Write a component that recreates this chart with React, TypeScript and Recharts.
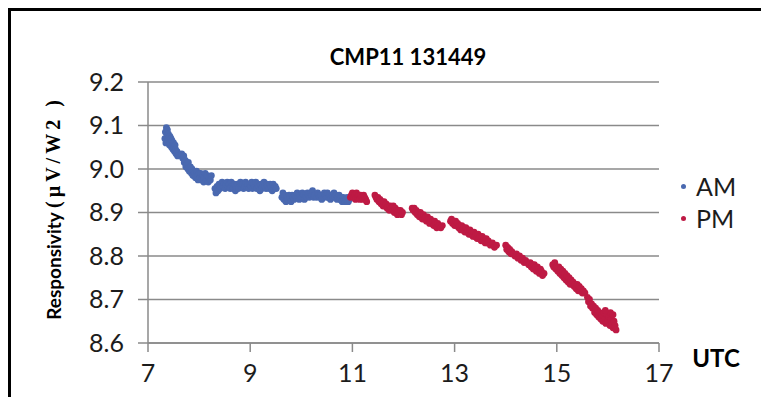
import React from 'react';
import { ScatterChart, Scatter, XAxis, YAxis, CartesianGrid } from 'recharts';

const TITLE = 'CMP11 131449';
const X_LABEL = 'UTC';
const Y_LABEL_MAIN = 'Responsivity ';
const Y_LABEL_UNIT = '(µV/W2 )';
const X_TICKS = [7, 9, 11, 13, 15, 17];
const Y_TICKS = [8.6, 8.7, 8.8, 8.9, 9.0, 9.1, 9.2];
const SERIES_NAMES = ['AM', 'PM'];

const amPoints: [number, number][] = [
  [7.33, 9.07], [7.34, 9.085], [7.35, 9.06], [7.36, 9.095], [7.37, 9.075], [7.38, 9.09], [7.39, 9.065],
  [7.40, 9.08], [7.41, 9.07], [7.42, 9.055], [7.43, 9.075], [7.44, 9.06], [7.45, 9.07], [7.46, 9.05],
  [7.47, 9.065], [7.48, 9.055], [7.49, 9.045], [7.50, 9.06], [7.51, 9.05], [7.52, 9.04], [7.53, 9.055],
  [7.54, 9.045], [7.55, 9.035], [7.57, 9.04], [7.58, 9.03],
  [7.66, 9.035], [7.68, 9.025], [7.70, 9.03], [7.71, 9.015], [7.73, 9.02], [7.74, 9.005], [7.76, 9.01],
  [7.78, 9.0], [7.79, 9.015], [7.81, 8.995], [7.83, 9.005], [7.85, 8.99], [7.86, 9.0], [7.88, 8.985],
  [7.90, 8.995], [7.92, 8.99], [7.93, 8.98], [7.95, 8.995], [7.97, 8.985], [7.98, 8.975], [8.00, 8.99],
  [8.02, 8.98], [8.03, 8.99], [8.05, 8.975], [8.07, 8.985], [8.09, 8.97], [8.10, 8.98], [8.12, 8.99],
  [8.14, 8.975], [8.16, 8.985], [8.18, 8.97], [8.20, 8.98], [8.22, 8.975], [8.24, 8.985],
  [8.31, 8.955], [8.33, 8.945], [8.35, 8.96], [8.37, 8.95], [8.39, 8.965], [8.41, 8.955], [8.43, 8.96],
  [8.45, 8.97], [8.47, 8.96], [8.49, 8.965], [8.51, 8.955], [8.53, 8.965], [8.55, 8.97], [8.57, 8.96],
  [8.59, 8.965], [8.61, 8.955], [8.63, 8.97], [8.65, 8.96], [8.67, 8.955], [8.69, 8.965], [8.71, 8.95],
  [8.73, 8.96], [8.75, 8.965], [8.77, 8.955], [8.79, 8.965], [8.81, 8.97], [8.83, 8.96], [8.85, 8.965],
  [8.87, 8.955], [8.89, 8.96], [8.91, 8.97], [8.93, 8.96], [8.95, 8.965], [8.97, 8.955], [8.99, 8.965],
  [9.01, 8.96], [9.03, 8.97], [9.05, 8.955], [9.07, 8.965], [9.09, 8.96], [9.11, 8.97], [9.13, 8.955],
  [9.15, 8.965], [9.17, 8.96], [9.19, 8.95], [9.21, 8.965], [9.23, 8.955], [9.25, 8.96], [9.27, 8.97],
  [9.29, 8.96], [9.31, 8.955], [9.33, 8.965], [9.35, 8.96], [9.37, 8.955], [9.39, 8.965], [9.41, 8.96],
  [9.43, 8.95], [9.45, 8.965], [9.47, 8.955], [9.49, 8.96], [9.51, 8.955],
  [9.62, 8.935], [9.64, 8.945], [9.66, 8.93], [9.68, 8.94], [9.70, 8.925], [9.72, 8.935], [9.74, 8.93],
  [9.76, 8.94], [9.78, 8.935], [9.80, 8.925], [9.82, 8.94], [9.84, 8.935], [9.86, 8.93], [9.88, 8.94],
  [9.90, 8.935], [9.92, 8.945], [9.94, 8.935], [9.96, 8.93], [9.98, 8.94], [10.00, 8.935], [10.02, 8.945],
  [10.04, 8.94], [10.06, 8.93], [10.08, 8.94], [10.10, 8.935], [10.12, 8.945], [10.14, 8.94], [10.16, 8.935],
  [10.18, 8.945], [10.20, 8.94], [10.22, 8.95], [10.24, 8.935], [10.26, 8.94], [10.30, 8.935], [10.32, 8.945],
  [10.34, 8.94], [10.36, 8.935], [10.38, 8.94], [10.40, 8.93], [10.45, 8.945], [10.47, 8.94], [10.49, 8.935],
  [10.51, 8.945], [10.53, 8.935], [10.55, 8.94], [10.57, 8.93], [10.60, 8.94], [10.62, 8.935], [10.64, 8.945],
  [10.66, 8.935], [10.68, 8.94], [10.70, 8.93], [10.72, 8.935], [10.74, 8.94], [10.76, 8.93], [10.78, 8.935],
  [10.80, 8.925], [10.82, 8.935], [10.84, 8.93], [10.86, 8.925], [10.88, 8.93], [10.90, 8.935], [10.92, 8.925],
  [10.94, 8.93],
];

const pmPoints: [number, number][] = [
  [10.96, 8.935], [10.98, 8.94], [11.00, 8.945], [11.02, 8.935], [11.04, 8.94], [11.06, 8.93], [11.08, 8.945],
  [11.10, 8.935], [11.12, 8.94], [11.14, 8.93], [11.16, 8.94], [11.18, 8.935], [11.20, 8.93], [11.22, 8.94],
  [11.24, 8.935], [11.26, 8.93], [11.28, 8.925],
  [11.44, 8.94], [11.46, 8.935], [11.48, 8.93], [11.50, 8.935], [11.52, 8.925], [11.54, 8.93], [11.56, 8.92],
  [11.58, 8.925], [11.60, 8.915], [11.62, 8.925], [11.64, 8.915], [11.66, 8.92], [11.68, 8.91], [11.70, 8.915],
  [11.72, 8.905], [11.74, 8.915], [11.76, 8.91], [11.78, 8.905], [11.80, 8.915], [11.82, 8.9], [11.84, 8.91],
  [11.86, 8.905], [11.88, 8.895], [11.90, 8.905], [11.92, 8.9], [11.94, 8.905], [11.96, 8.895], [11.98, 8.9],
  [12.17, 8.91], [12.19, 8.905], [12.21, 8.91], [12.23, 8.9], [12.25, 8.905], [12.27, 8.895], [12.29, 8.9],
  [12.31, 8.89], [12.33, 8.9], [12.35, 8.895], [12.37, 8.885], [12.39, 8.895], [12.41, 8.885], [12.43, 8.89],
  [12.45, 8.88], [12.47, 8.89], [12.49, 8.885], [12.51, 8.875], [12.53, 8.885], [12.55, 8.875], [12.57, 8.88],
  [12.59, 8.87], [12.61, 8.88], [12.63, 8.875], [12.65, 8.865], [12.67, 8.875], [12.70, 8.87], [12.73, 8.865],
  [12.76, 8.87],
  [12.92, 8.88], [12.94, 8.885], [12.96, 8.875], [12.98, 8.88], [13.00, 8.87], [13.02, 8.88], [13.04, 8.87],
  [13.06, 8.875], [13.08, 8.865], [13.10, 8.87], [13.12, 8.86], [13.14, 8.87], [13.16, 8.86], [13.18, 8.865],
  [13.20, 8.855], [13.22, 8.865], [13.24, 8.855], [13.26, 8.86], [13.28, 8.85], [13.30, 8.86], [13.32, 8.85],
  [13.34, 8.855], [13.36, 8.845], [13.38, 8.855], [13.40, 8.845], [13.42, 8.85], [13.44, 8.84], [13.46, 8.85],
  [13.48, 8.84], [13.50, 8.845], [13.52, 8.835], [13.54, 8.845], [13.56, 8.835], [13.58, 8.84], [13.60, 8.83],
  [13.62, 8.84], [13.64, 8.83], [13.66, 8.835], [13.70, 8.825], [13.74, 8.83], [13.78, 8.82], [13.82, 8.825],
  [14.00, 8.825], [14.02, 8.815], [14.04, 8.82], [14.06, 8.81], [14.08, 8.815], [14.10, 8.805], [14.12, 8.81],
  [14.15, 8.805], [14.18, 8.8], [14.21, 8.805], [14.24, 8.795], [14.27, 8.8], [14.30, 8.79], [14.33, 8.795],
  [14.36, 8.785], [14.39, 8.79], [14.42, 8.785], [14.45, 8.78], [14.48, 8.785], [14.50, 8.775], [14.52, 8.78],
  [14.54, 8.77], [14.56, 8.78], [14.58, 8.775], [14.60, 8.765], [14.62, 8.775], [14.64, 8.77], [14.66, 8.76],
  [14.68, 8.77], [14.70, 8.765], [14.72, 8.755], [14.75, 8.76],
  [14.92, 8.78], [14.94, 8.775], [14.96, 8.785], [14.98, 8.77], [15.00, 8.775], [15.02, 8.765], [15.04, 8.775],
  [15.06, 8.76], [15.08, 8.77], [15.10, 8.755], [15.12, 8.765], [15.14, 8.75], [15.16, 8.76], [15.18, 8.745],
  [15.20, 8.755], [15.22, 8.74], [15.24, 8.75], [15.26, 8.735], [15.28, 8.745], [15.30, 8.735], [15.32, 8.74],
  [15.34, 8.73], [15.36, 8.735], [15.38, 8.725], [15.40, 8.735], [15.42, 8.72], [15.44, 8.73], [15.46, 8.72],
  [15.48, 8.725], [15.50, 8.715], [15.52, 8.72], [15.55, 8.715],
  [15.60, 8.705], [15.62, 8.695], [15.64, 8.70], [15.66, 8.685], [15.68, 8.69], [15.70, 8.68], [15.72, 8.685],
  [15.74, 8.67], [15.76, 8.68], [15.78, 8.665], [15.80, 8.675], [15.82, 8.66], [15.84, 8.67], [15.86, 8.655],
  [15.88, 8.665], [15.90, 8.65], [15.92, 8.67], [15.94, 8.655], [15.96, 8.645], [15.98, 8.665], [16.00, 8.65],
  [16.02, 8.66], [16.04, 8.64], [16.06, 8.655], [16.08, 8.645], [16.10, 8.635], [16.12, 8.65], [16.14, 8.64],
  [16.16, 8.63], [16.05, 8.67], [15.95, 8.675], [16.10, 8.665],
];

const AM_COLOR = '#4A69B0';
const PM_COLOR = '#BE1A44';
const GRID = '#8a8a8a';
const TEXT = '#1c1c1c';

const amData = amPoints.map(([t, r]) => ({ t, r }));
const pmData = pmPoints.map(([t, r]) => ({ t, r }));

const dot = (color: string) => (props: any) => (
  <circle cx={props.cx} cy={props.cy} r={3.4} fill={color} />
);

export default function App() {
  const tickStyle = { fontFamily: 'Lato', fontSize: 25, fill: TEXT };
  return (
    <div style={{ position: 'absolute', left: 0, top: 0, width: 761, height: 397, background: '#fff', overflow: 'hidden' }}>
      <div
        style={{
          position: 'absolute',
          left: 8,
          top: 8,
          width: 800,
          height: 450,
          borderTop: '3px solid #000',
          borderLeft: '3px solid #000',
        }}
      />
      <div style={{ position: 'absolute', left: 0, top: 0 }}>
        <ScatterChart width={761} height={397} margin={{ top: 82, right: 102, bottom: 24, left: 88 }}>
          <CartesianGrid horizontal vertical={false} stroke={GRID} strokeWidth={1.5} />
          <XAxis
            type="number"
            dataKey="t"
            domain={[7, 17]}
            ticks={X_TICKS}
            height={30}
            tickSize={9}
            tickMargin={12}
            tick={tickStyle}
            axisLine={{ stroke: GRID, strokeWidth: 1.5 }}
            tickLine={{ stroke: GRID, strokeWidth: 1.5 }}
            allowDataOverflow
          />
          <YAxis
            type="number"
            dataKey="r"
            domain={[8.6, 9.2]}
            ticks={Y_TICKS}
            width={60}
            tickSize={10}
            tickMargin={14}
            tick={tickStyle}
            tickFormatter={(v: number) => v.toFixed(1)}
            axisLine={{ stroke: GRID, strokeWidth: 1.5 }}
            tickLine={{ stroke: GRID, strokeWidth: 1.5 }}
            allowDataOverflow
          />
          <Scatter name="AM" data={amData} fill={AM_COLOR} shape={dot(AM_COLOR)} isAnimationActive={false} />
          <Scatter name="PM" data={pmData} fill={PM_COLOR} shape={dot(PM_COLOR)} isAnimationActive={false} />
        </ScatterChart>
      </div>
      <div
        style={{
          position: 'absolute',
          left: 681,
          top: 170,
          fontFamily: 'Lato',
          fontSize: 25,
          color: TEXT,
          lineHeight: '32px',
        }}
      >
        {SERIES_NAMES.map((n, i) => (
          <div key={n} style={{ display: 'flex', alignItems: 'center' }}>
            <span
              style={{
                display: 'inline-block',
                width: 5,
                height: 5,
                borderRadius: '50%',
                background: i === 0 ? AM_COLOR : PM_COLOR,
                marginRight: 10,
              }}
            />
            <span>{n}</span>
          </div>
        ))}
      </div>
      <svg width={761} height={397} style={{ position: 'absolute', left: 0, top: 0, pointerEvents: 'none' }}>
        <text x={408} y={56} textAnchor="middle" dominantBaseline="central" fontFamily="Lato" fontWeight="bold" fontSize={22} fill="#000">
          {TITLE}
        </text>
        <text x={716} y={357} textAnchor="middle" dominantBaseline="central" fontFamily="Lato" fontWeight="bold" fontSize={24} fill="#000">
          {X_LABEL}
        </text>
        <text
          transform="translate(53,208) rotate(-90)"
          textAnchor="middle"
          dominantBaseline="central"
          fontWeight="bold"
          fontSize={19}
          fill="#000"
        >
          <tspan fontFamily="Lato">{Y_LABEL_MAIN}</tspan>
          <tspan fontFamily="Liberation Serif" fontSize={20} letterSpacing={4}>{Y_LABEL_UNIT}</tspan>
        </text>
      </svg>
    </div>
  );
}
